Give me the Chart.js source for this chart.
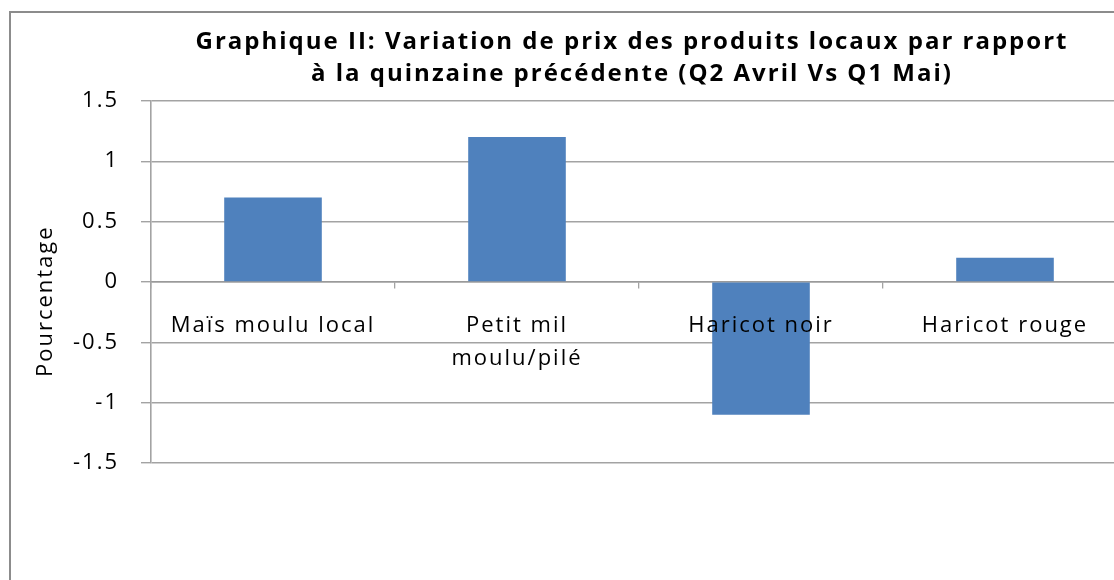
<!DOCTYPE html>
<html>
<head>
<meta charset="utf-8">
<script src="https://cdn.jsdelivr.net/npm/chart.js@4/dist/chart.umd.min.js"></script>
<style>
  html, body { margin: 0; padding: 0; background: #ffffff; overflow: hidden; width: 1114px; height: 580px; }
  #frame { position: absolute; left: 9px; top: 11px; width: 1300px; height: 700px; border: 2px solid #8c8c8c; box-sizing: border-box; }
  #wrap { position: absolute; left: 0; top: 0; width: 1264px; height: 600px; }
</style>
</head>
<body>
<div id="frame"></div>
<div id="wrap"><canvas id="c" width="1264" height="600"></canvas></div>
<script>
const categories = ["Maïs moulu local", ["Petit mil", "moulu/pilé"], "Haricot noir", "Haricot rouge"];
const values = [0.7, 1.2, -1.1, 0.2];
const yTickValues = [-1.5, -1, -0.5, 0, 0.5, 1, 1.5];
const yTickLabels = ["-1.5", "-1", "-0.5", "0", "0.5", "1", "1.5"];
const titleLines = ["Graphique II: Variation de prix des produits locaux par rapport", "à la quinzaine précédente (Q2 Avril Vs Q1 Mai)"];
const yTitle = "Pourcentage";

const FONT = "'Open Sans', sans-serif";
const GRID = "#a3a3a3";

// Wider letter spacing to mimic the stretched Calibri lettering of the original
const letterSpacingPlugin = {
  id: "letterSpacing",
  beforeDraw(chart) { if ("letterSpacing" in chart.ctx) chart.ctx.letterSpacing = "2px"; }
};

new Chart(document.getElementById("c"), {
  type: "bar",
  plugins: [letterSpacingPlugin],
  data: {
    labels: categories,
    datasets: [{
      data: values,
      backgroundColor: "#4f81bd",
      borderWidth: 0,
      categoryPercentage: 1,
      barPercentage: 0.4
    }]
  },
  options: {
    responsive: false,
    animation: false,
    events: [],
    layout: { padding: { left: 0, right: 0, top: 0, bottom: 137 } },
    plugins: {
      legend: { display: false },
      tooltip: { enabled: false },
      title: {
        display: true,
        text: titleLines,
        color: "#000000",
        font: { family: FONT, size: 24, weight: "bold", lineHeight: 1.33 },
        padding: { top: 26, bottom: 11 }
      }
    },
    scales: {
      x: {
        position: { y: 0 },
        grid: { display: true, drawOnChartArea: false, drawTicks: true, tickLength: 6, offset: true, color: GRID, lineWidth: 1.3 },
        border: { display: true, color: "#9a9a9a", width: 1.6 },
        ticks: { z: 1, color: "#000000", font: { family: FONT, size: 22, lineHeight: 1.5 }, padding: 21, maxRotation: 0, autoSkip: false }
      },
      y: {
        min: yTickValues[0],
        max: yTickValues[yTickValues.length - 1],
        afterBuildTicks: (s) => { s.ticks = yTickValues.map(v => ({ value: v })); },
        grid: { color: GRID, lineWidth: 1.4, drawTicks: true, tickLength: 10 },
        border: { display: true, color: "#a3a3a3", width: 1.6 },
        ticks: { color: "#000000", font: { family: FONT, size: 22 }, padding: 22,
                 callback: (v, i) => yTickLabels[i] },
        title: { display: true, text: yTitle + "     ", color: "#000000", font: { family: FONT, size: 22 }, padding: { top: 33, bottom: 0 } },
        afterFit: (s) => { s.width = 151; }
      },
      yRight: {
        type: "linear",
        position: "right",
        display: true,
        grid: { display: false },
        border: { display: false },
        ticks: { display: false },
        afterFit: (s) => { s.width = 137; }
      }
    }
  }
});
</script>
</body>
</html>
